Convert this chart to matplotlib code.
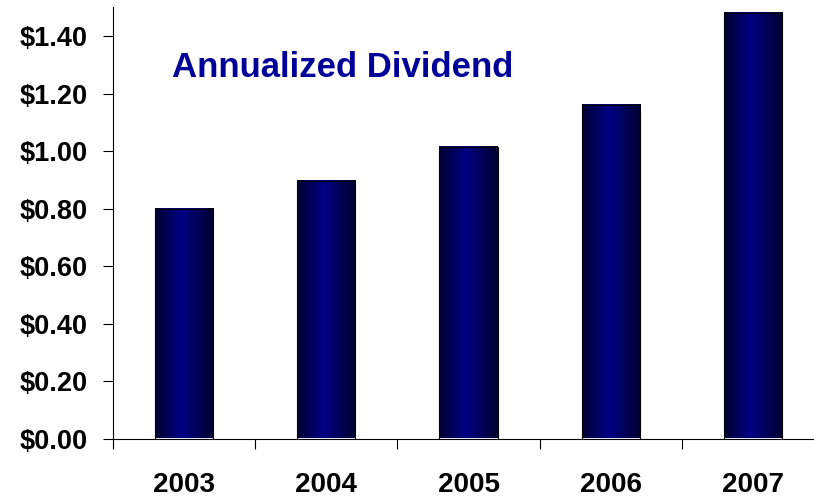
import numpy as np
import matplotlib
matplotlib.use("Agg")
import matplotlib.pyplot as plt
from matplotlib.colors import LinearSegmentedColormap

plt.rcParams['font.family'] = ['Liberation Sans', 'DejaVu Sans']
plt.rcParams['font.weight'] = 'bold'

# annualized dividend per year
years = ['2003', '2004', '2005', '2006', '2007']
dividend = [0.80, 0.895, 1.015, 1.16, 1.48]
yticks = [0.0, 0.2, 0.4, 0.6, 0.8, 1.0, 1.2, 1.4]

fig = plt.figure(figsize=(8.14, 5.0), dpi=100)
ax = fig.add_axes([113 / 814, 61.5 / 500, 711 / 814, 431.2 / 500])

# dark-edge -> navy -> dark-edge shading across each bar
shade = LinearSegmentedColormap.from_list(
    'bar_shade', [(0.0, '#000030'), (0.45, '#000084'), (1.0, '#000030')])
grad = np.linspace(0, 1, 256).reshape(1, -1)

width = 0.41
x = np.arange(len(years))
bars = ax.bar(x, dividend, width=width, facecolor='none',
              edgecolor='black', linewidth=0.8, zorder=3)
for xi, val in zip(x, dividend):
    ax.imshow(grad, cmap=shade, aspect='auto', interpolation='bicubic',
              extent=[xi - width / 2, xi + width / 2, 0, val], zorder=2)

ax.set_xlim(-0.5, len(years) - 0.5)
ax.set_ylim(0, 1.5)

ax.set_yticks(yticks)
ax.set_yticklabels(['${:.2f}'.format(v) for v in yticks])
ax.tick_params(axis='y', direction='out', length=7, width=0.8,
               labelsize=19.5, pad=11)

# year labels at bar centres, tick marks at category boundaries
ax.set_xticks(x)
ax.set_xticklabels(years)
ax.set_xticks(np.arange(-0.5, len(years) + 0.5, 1.0), minor=True)
ax.tick_params(axis='x', which='major', length=0, labelsize=20, pad=24)
ax.tick_params(axis='x', which='minor', direction='out', length=7, width=0.8)

for side in ['top', 'right']:
    ax.spines[side].set_visible(False)
for side in ['left', 'bottom']:
    ax.spines[side].set_linewidth(0.8)

fig.text(172 / 814, 1 - 77 / 500, 'Annualized Dividend', color='#000099',
         fontsize=25, fontweight='bold', va='baseline', ha='left')

fig.savefig('out.png', dpi=100)
